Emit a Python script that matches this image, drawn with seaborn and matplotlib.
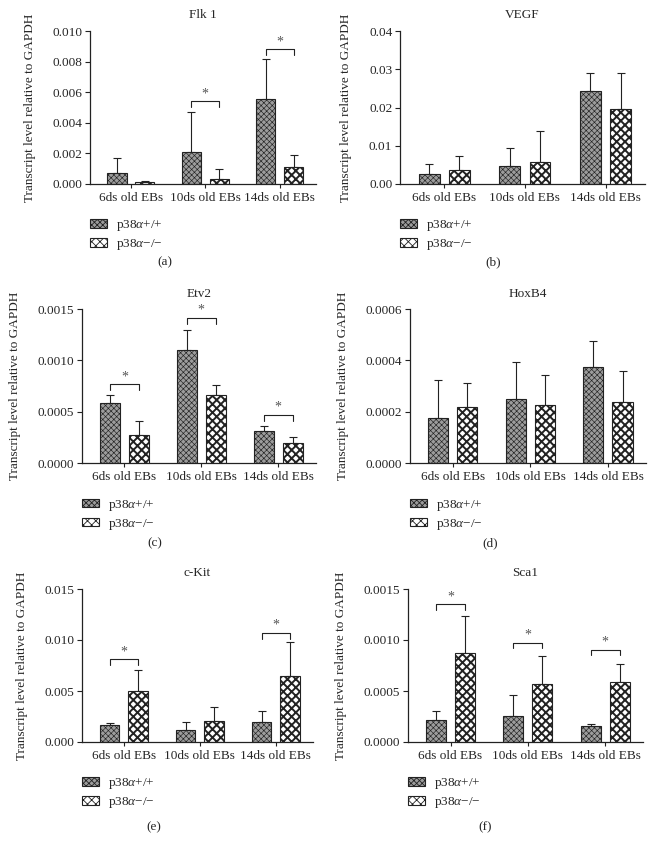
import matplotlib
matplotlib.use("Agg")
import matplotlib.pyplot as plt
import seaborn as sns
import pandas as pd

# Etapas y genotipos
etapas = ["6ds old EBs", "10ds old EBs", "14ds old EBs"]
genotipos = ["p38$\\alpha$+/+", "p38$\\alpha$\u2212/\u2212"]

# Medias (WT, KO) y desviaciones (solo hacia arriba)
flk1_wt = [0.00074, 0.00212, 0.00555]
flk1_ko = [0.00011, 0.00030, 0.00111]
flk1_wt_sd = [0.00098, 0.00260, 0.00262]
flk1_ko_sd = [0.00006, 0.00068, 0.00079]

vegf_wt = [0.0026, 0.0046, 0.0244]
vegf_ko = [0.0037, 0.0058, 0.0197]
vegf_wt_sd = [0.0025, 0.0049, 0.0045]
vegf_ko_sd = [0.0035, 0.0080, 0.0094]

etv2_wt = [0.000586, 0.001097, 0.000312]
etv2_ko = [0.000277, 0.000664, 0.000198]
etv2_wt_sd = [0.000081, 0.000195, 0.000046]
etv2_ko_sd = [0.000130, 0.000097, 0.000059]

hoxb4_wt = [0.000175, 0.000250, 0.000374]
hoxb4_ko = [0.000218, 0.000226, 0.000237]
hoxb4_wt_sd = [0.000148, 0.000143, 0.000103]
hoxb4_ko_sd = [0.000092, 0.000117, 0.000123]

ckit_wt = [0.00166, 0.00120, 0.00195]
ckit_ko = [0.00501, 0.00208, 0.00644]
ckit_wt_sd = [0.00019, 0.00072, 0.00105]
ckit_ko_sd = [0.00202, 0.00134, 0.00332]

sca1_wt = [0.000215, 0.000254, 0.000160]
sca1_ko = [0.000877, 0.000564, 0.000584]
sca1_wt_sd = [0.000088, 0.000206, 0.000016]
sca1_ko_sd = [0.000363, 0.000281, 0.000179]

# Corchetes de significancia: (indice de etapa, altura)
flk1_sig = [(1, 0.0054), (2, 0.0088)]
vegf_sig = []
etv2_sig = [(0, 0.000765), (1, 0.00141), (2, 0.000465)]
hoxb4_sig = []
ckit_sig = [(0, 0.0081), (2, 0.01067)]
sca1_sig = [(0, 0.00135), (1, 0.000972), (2, 0.000903)]

paneles = [
    # titulo, wt, ko, wt_sd, ko_sd, sig, ymax, paso, decimales, rect (px), letra, pos letra
    ("Flk 1", flk1_wt, flk1_ko, flk1_wt_sd, flk1_ko_sd, flk1_sig, 0.010, 0.002, 3, (90, 31, 316, 184), "(a)", (0.33, -0.51)),
    ("VEGF", vegf_wt, vegf_ko, vegf_wt_sd, vegf_ko_sd, vegf_sig, 0.04, 0.01, 2, (400, 31, 645, 184), "(b)", (0.38, -0.51)),
    ("Etv2", etv2_wt, etv2_ko, etv2_wt_sd, etv2_ko_sd, etv2_sig, 0.0015, 0.0005, 4, (82, 309, 316, 463), "(c)", (0.31, -0.52)),
    ("HoxB4", hoxb4_wt, hoxb4_ko, hoxb4_wt_sd, hoxb4_ko_sd, hoxb4_sig, 0.0006, 0.0002, 4, (410, 309, 646, 463), "(d)", (0.34, -0.52)),
    ("c-Kit", ckit_wt, ckit_ko, ckit_wt_sd, ckit_ko_sd, ckit_sig, 0.015, 0.005, 3, (82, 589, 313, 742), "(e)", (0.31, -0.555)),
    ("Sca1", sca1_wt, sca1_ko, sca1_wt_sd, sca1_ko_sd, sca1_sig, 0.0015, 0.0005, 4, (408, 589, 643, 742), "(f)", (0.33, -0.555)),
]

sns.set_theme(style="ticks")
plt.rcParams["font.family"] = ["Liberation Serif", "DejaVu Serif"]
plt.rcParams["mathtext.fontset"] = "custom"
plt.rcParams["mathtext.it"] = "Liberation Serif:italic"
plt.rcParams["mathtext.rm"] = "Liberation Serif"
plt.rcParams["hatch.linewidth"] = 0.6

W, H = 651, 852
fig = plt.figure(figsize=(W / 100, H / 100), dpi=100)
color_linea = "#222222"

for titulo, wt, ko, wt_sd, ko_sd, sig, ymax, paso, dec, rect, letra, pos_letra in paneles:
    x0, y0, x1, y1 = rect
    ax = fig.add_axes([x0 / W, 1 - y1 / H, (x1 - x0) / W, (y1 - y0) / H])

    df = pd.DataFrame({
        "etapa": etapas * 2,
        "genotipo": [genotipos[0]] * 3 + [genotipos[1]] * 3,
        "valor": wt + ko,
    })
    sns.barplot(data=df, x="etapa", y="valor", hue="genotipo", order=etapas,
                hue_order=genotipos, errorbar=None, width=0.75, gap=0.31,
                ax=ax, legend=False, zorder=2)

    # relleno: gris fino para WT, tablero de ajedrez para KO
    estilos = [("#9c9c9c", "xxxxxx", 0.45), ("white", "xxxx", 1.4)]
    centros = []
    for cont, (fc, hatch, hlw), medias, sds in zip(ax.containers, estilos, [wt, ko], [wt_sd, ko_sd]):
        xs = []
        for bar in cont:
            bar.set_facecolor(fc)
            bar.set_edgecolor(color_linea)
            bar.set_linewidth(0.8)
            bar.set_hatch(hatch)
            if hasattr(bar, "set_hatch_linewidth"):
                bar.set_hatch_linewidth(hlw)
            xs.append(bar.get_x() + bar.get_width() / 2)
        centros.append(xs)
        ax.errorbar(xs, medias, yerr=[[0] * len(sds), sds], fmt="none",
                    ecolor=color_linea, elinewidth=0.8, capsize=3, capthick=0.8, zorder=1)

    # corchetes de significancia
    for idx, altura in sig:
        xa, xb = centros[0][idx], centros[1][idx]
        caida = ymax * 0.035
        ax.plot([xa, xa, xb, xb], [altura - caida, altura, altura, altura - caida],
                color=color_linea, lw=0.8, clip_on=False)
        ax.text((xa + xb) / 2, altura + ymax * 0.008, "*", ha="center", va="bottom",
                fontsize=10, color="#555555")

    ax.set_xlim(-0.55, 2.49)
    ax.set_ylim(0, ymax)
    ticks = [paso * i for i in range(int(round(ymax / paso)) + 1)]
    ax.set_yticks(ticks)
    ax.set_yticklabels([f"{t:.{dec}f}" for t in ticks])
    ax.set_xlabel("")
    ax.set_ylabel("Transcript level relative to GAPDH", fontsize=9.5, labelpad=12)
    ax.set_title(titulo, fontsize=9.5, pad=9)
    ax.tick_params(axis="y", labelsize=9.5, length=3.5, width=0.8, color=color_linea, pad=2)
    ax.tick_params(axis="x", labelsize=9.5, length=3, width=0.8, color=color_linea, pad=3)
    for lado in ["top", "right"]:
        ax.spines[lado].set_visible(False)
    for lado in ["left", "bottom"]:
        ax.spines[lado].set_color(color_linea)
        ax.spines[lado].set_linewidth(0.9)

    ax.legend(handles=[ax.containers[0][0], ax.containers[1][0]], labels=genotipos,
              loc="center left", bbox_to_anchor=(0.0, -0.335), frameon=False,
              fontsize=9.5, handlelength=1.3, handleheight=0.6,
              handletextpad=0.7, labelspacing=0.3, borderpad=0, borderaxespad=0)

    ax.text(pos_letra[0], pos_letra[1], letra, transform=ax.transAxes,
            ha="center", va="center", fontsize=9.5)

fig.savefig("out.png", dpi=100)
